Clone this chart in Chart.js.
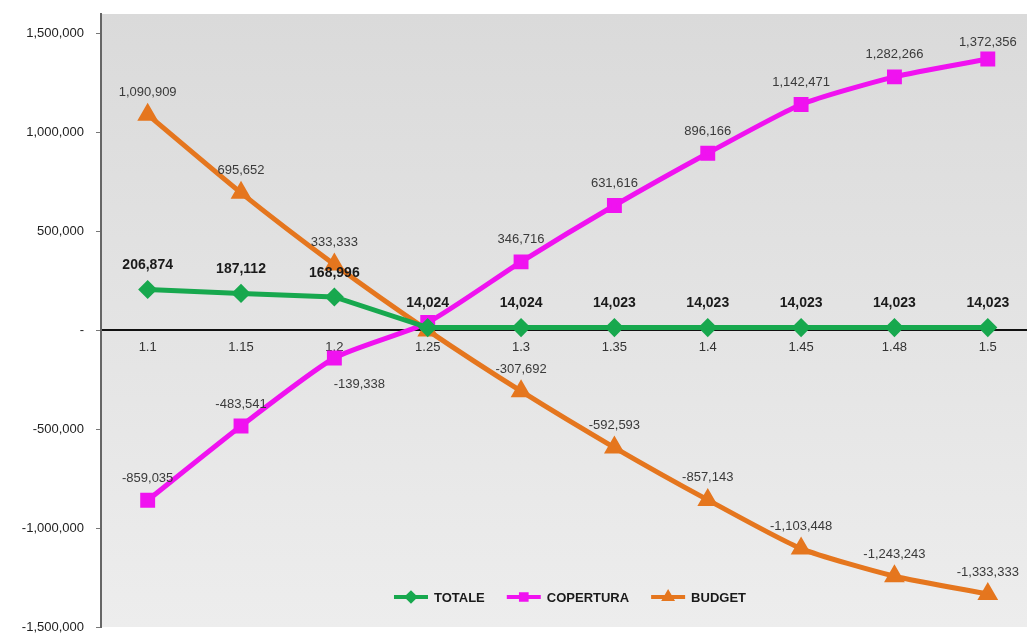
<!DOCTYPE html>
<html>
<head>
<meta charset="utf-8">
<script src="https://cdn.jsdelivr.net/npm/chart.js@4/dist/chart.umd.min.js"></script>
<style>
    html, body { margin: 0; padding: 0; background: #fff; }
    #wrap { width: 1027px; height: 634px; position: relative; }
</style>
</head>
<body>
<div id="wrap"><canvas id="chart"></canvas></div>
<script>
// Values
const categories = ['1.1', '1.15', '1.2', '1.25', '1.3', '1.35', '1.4', '1.45', '1.48', '1.5'];
const totale = [206874, 187112, 168996, 14024, 14024, 14023, 14023, 14023, 14023, 14023];
const copertura = [-859035, -483541, -139338, 40000, 346716, 631616, 896166, 1142471, 1282266, 1372356];
const budget = [1090909, 695652, 333333, 0, -307692, -592593, -857143, -1103448, -1243243, -1333333];
const yTicks = [-1500000, -1000000, -500000, 0, 500000, 1000000, 1500000];

// labels that are hidden in the original (overlapping at 1.25)
const hiddenLabels = { 1: [3], 2: [3] };
// per-point label offsets that differ from the default "above"
const labelShift = { '1-2': [25, 26], '1-9': [0, -17] };

const FONT = '"Liberation Sans", Arial, sans-serif';

const toPoints = vals => vals.map((v, i) => ({ x: i, y: v }));

const bgPlugin = {
    id: 'bg',
    beforeDraw(chart) {
        const { ctx, chartArea: a } = chart;
        const g = ctx.createLinearGradient(0, a.top, 0, a.bottom);
        g.addColorStop(0, '#dadada');
        g.addColorStop(1, '#ededed');
        ctx.save();
        ctx.fillStyle = g;
        ctx.fillRect(a.left, a.top, chart.width - a.left, a.bottom - a.top);
        ctx.restore();
    }
};

const labelPlugin = {
    id: 'valueLabels',
    afterDatasetsDraw(chart) {
        const ctx = chart.ctx;
        ctx.save();
        ctx.textAlign = 'center';
        ctx.textBaseline = 'middle';
        chart.data.datasets.forEach((ds, di) => {
            const meta = chart.getDatasetMeta(di);
            const bold = di === 0;
            ctx.font = (bold ? 'bold 14px ' : '13px ') + FONT;
            ctx.fillStyle = bold ? '#1a1a1a' : '#3a3a3a';
            meta.data.forEach((pt, i) => {
                if ((hiddenLabels[di] || []).includes(i)) return;
                const sh = labelShift[di + '-' + i] || [0, bold ? -24 : -22];
                const txt = ds.data[i].y.toLocaleString('en-US');
                ctx.fillText(txt, pt.x + sh[0], pt.y + sh[1]);
            });
        });
        ctx.restore();
    }
};

const legendPlugin = {
    id: 'innerLegend',
    afterDraw(chart) {
        const ctx = chart.ctx;
        ctx.save();
        ctx.font = 'bold 13px ' + FONT;
        ctx.textBaseline = 'middle';
        const y = 597;
        const lineW = 34, gapText = 6, gapItem = 22;
        const items = chart.data.datasets.map(ds => ({ ds, w: ctx.measureText(ds.label).width }));
        const total = items.reduce((s, it) => s + lineW + gapText + it.w, 0) + gapItem * (items.length - 1);
        let x = 570 - total / 2;
        items.forEach(({ ds, w }) => {
            ctx.strokeStyle = ds.borderColor;
            ctx.lineWidth = 4;
            ctx.beginPath();
            ctx.moveTo(x, y);
            ctx.lineTo(x + lineW, y);
            ctx.stroke();
            Chart.helpers.drawPoint(ctx, { pointStyle: ds.pointStyle, radius: 4, borderWidth: 1 }, x + lineW / 2, y);
            ctx.fillStyle = ds.borderColor;
            ctx.fill();
            ctx.fillStyle = '#1a1a1a';
            ctx.fillText(ds.label, x + lineW + gapText, y + 1);
            x += lineW + gapText + w + gapItem;
        });
        ctx.restore();
    }
};

new Chart(document.getElementById('chart'), {
    type: 'line',
    data: {
        datasets: [
            {
                label: 'TOTALE',
                data: toPoints(totale),
                borderColor: '#17a84e',
                backgroundColor: '#17a84e',
                borderWidth: 5,
                pointStyle: 'rectRot',
                pointRadius: 6,
                tension: 0
            },
            {
                label: 'COPERTURA',
                data: toPoints(copertura),
                borderColor: '#f012f0',
                backgroundColor: '#f012f0',
                borderWidth: 5,
                pointStyle: 'rect',
                pointRadius: 7,
                tension: 0.2
            },
            {
                label: 'BUDGET',
                data: toPoints(budget),
                borderColor: '#e5761e',
                backgroundColor: '#e5761e',
                borderWidth: 5,
                pointStyle: 'triangle',
                pointRadius: 7,
                tension: 0.2
            }
        ]
    },
    options: {
        responsive: true,
        maintainAspectRatio: false,
        animation: false,
        layout: { autoPadding: false, padding: { top: 14, bottom: 7, right: 0, left: 0 } },
        plugins: {
            legend: { display: false },
            tooltip: { enabled: false }
        },
        scales: {
            x: {
                type: 'linear',
                position: { y: 0 },
                min: -0.5,
                max: 9.42,
                afterBuildTicks: s => { s.ticks = categories.map((c, i) => ({ value: i })); },
                afterFit: s => { s.paddingLeft = 0; s.paddingRight = 0; },
                ticks: {
                    callback: v => categories[v],
                    font: { family: FONT, size: 13 },
                    color: '#333',
                    padding: 9,
                    maxRotation: 0,
                    autoSkip: false
                },
                grid: { display: false, drawTicks: false },
                border: { display: true, color: '#111', width: 2 }
            },
            y: {
                min: -1500000,
                max: 1600000,
                afterBuildTicks: s => { s.ticks = yTicks.map(v => ({ value: v })); },
                afterFit: s => {
                    s.width = 101;
                    s.paddingTop = 0; s.paddingBottom = 0;
                },
                ticks: {
                    callback: v => v === 0 ? '-' : v.toLocaleString('en-US'),
                    font: { family: FONT, size: 13 },
                    color: '#222',
                    padding: 12
                },
                grid: { drawOnChartArea: false, tickLength: 5, color: '#777' },
                border: { display: true, color: '#666', width: 2 }
            }
        }
    },
    plugins: [bgPlugin, labelPlugin, legendPlugin]
});
</script>
</body>
</html>
